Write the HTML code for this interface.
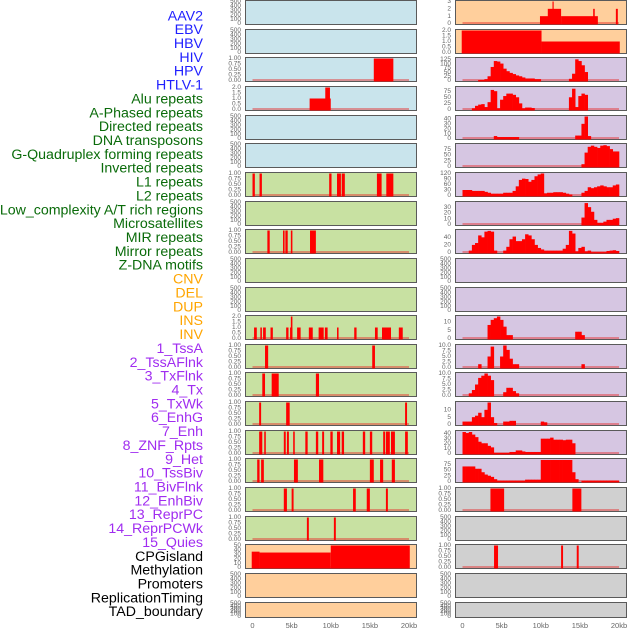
<!DOCTYPE html>
<html><head><meta charset="utf-8"><style>
body{margin:0;background:#fff;}
svg{display:block;font-family:"Liberation Sans",sans-serif;}
</style></head><body>
<svg id="chart" width="630" height="630" viewBox="0 0 630 630"></svg>
<script>
// ---- data ----
const trackLabels = ["AAV2","EBV","HBV","HIV","HPV","HTLV-1","Alu repeats","A-Phased repeats","Directed repeats","DNA transposons","G-Quadruplex forming repeats","Inverted repeats","L1 repeats","L2 repeats","Low_complexity A/T rich regions","Microsatellites","MIR repeats","Mirror repeats","Z-DNA motifs","CNV","DEL","DUP","INS","INV","1_TssA","2_TssAFlnk","3_TxFlnk","4_Tx","5_TxWk","6_EnhG","7_Enh","8_ZNF_Rpts","9_Het","10_TssBiv","11_BivFlnk","12_EnhBiv","13_ReprPC","14_ReprPCWk","15_Quies","CPGisland","Methylation","Promoters","ReplicationTiming","TAD_boundary"];
const labelGroups = ["v","v","v","v","v","v","r","r","r","r","r","r","r","r","r","r","r","r","r","s","s","s","s","s","c","c","c","c","c","c","c","c","c","c","c","c","c","c","c","o","o","o","o","o"];
const xTickLabels = ["0","5kb","10kb","15kb","20kb"];
const xTickValues = [0,5,10,15,20];
const ticksEmpty = ["0","100","200","300","400","500"];
const ticksUnit = ["0.00","0.25","0.50","0.75","1.00"];
const ticksTwo = ["0.0","0.5","1.0","1.5","2.0"];
const ticksTen = ["0.0","2.5","5.0","7.5","10.0"];
const leftBg = ["b","b","b","b","b","b","g","g","g","g","g","g","g","g","g","g","g","g","g","p","p","p"];
const rightBg = ["p","p","l","l","l","l","l","l","l","l","l","l","l","l","l","l","l","y","y","y","y","y"];
const leftSegs = [
 null,null,
 [[15.5,18,1]],
 [[7.3,10,1],[9.3,9.9,2]],
 null,null,
 [[0,0.3,1],[0.9,1.2,1],[9.8,10.1,1],[10.8,11.3,1],[11.4,11.8,1],[15.9,16.5,1],[17.1,18.0,1]],
 null,
 [[1.9,2.2,1],[3.9,4.1,1],[4.2,4.5,1],[4.9,5.1,1],[7.35,8.1,1]],
 null,null,
 [[0.2,0.55,1],[1.0,1.2,1],[1.35,1.7,1],[2.3,2.6,1],[4.3,4.6,1],[4.8,5.1,1],[4.9,5.1,2],[5.7,6.15,1],[7.2,7.7,1],[8.45,9.1,1],[9.25,9.6,1],[10.8,11.0,1],[13.0,13.3,1],[15.65,16.0,1],[16.55,17.7,1],[18.7,19.2,1]],
 [[1.6,2.0,1],[15.3,15.65,1]],
 [[1.25,1.6,1],[2.45,3.35,1],[8.1,8.5,1]],
 [[0.85,1.1,1],[4.3,4.75,1],[19.5,19.75,1]],
 [[0.85,1.25,1],[1.5,1.7,1],[4.0,4.25,1],[4.4,4.65,1],[5.2,5.4,1],[6.75,7.05,1],[8.1,8.4,1],[8.9,9.15,1],[9.95,10.25,1],[10.8,11.2,1],[11.4,11.7,1],[14.1,14.4,1],[15.0,15.3,1],[16.7,16.95,1],[17.05,17.55,1],[17.7,18.2,1],[19.5,19.85,1]],
 [[0.6,0.9,1],[1.1,1.45,1],[5.3,5.8,1],[8.5,9.05,1],[15.0,15.5,1],[16.3,16.7,1],[17.8,18.2,1]],
 [[4.0,4.4,1],[5.0,5.25,1],[12.85,13.2,1],[14.6,15.0,1],[17.05,17.3,1]],
 [[6.95,7.2,1],[10.4,10.65,1]],
 [[-0.1,0.9,36],[0.9,10,34],[10,20.1,50]],
 null,null
];
const leftYmax = [500,500,1,2,500,500,1,500,1,500,500,2,1,1,1,1,1,1,1,50,500,500];
const leftTicks = [ticksEmpty,ticksEmpty,ticksUnit,ticksTwo,ticksEmpty,ticksEmpty,ticksUnit,ticksEmpty,ticksUnit,ticksEmpty,ticksEmpty,ticksTwo,ticksUnit,ticksUnit,ticksUnit,ticksUnit,ticksUnit,ticksUnit,ticksUnit,["0","10","20","30","40","50"],ticksEmpty,ticksEmpty];
const rightSegs = {
 0:[[9.9,12.6,1],[10.9,12.6,2],[11.5,11.65,3],[12.6,17.3,1],[16.7,16.9,2],[19.6,19.85,2]],
 1:[[-0.1,10.1,2],[10.1,20.1,1]],
 17:[[3.57,5.32,1],[14.04,15.19,1]],
 19:[[4.03,4.54,1],[12.6,12.85,1],[14.6,14.85,1]]
};
const rightBins = {
 2:[{s:5,v:[3,3,8,25,80,115,112,100,70,55,45,38,30,25,18,12,12,12,8,8]},{s:34,v:[10,40,125,115,90,50]}],
 3:[{s:3,v:[5,15,20,22,10,30,80,75,5,40,55,65,65,60,50,25,5,8,8,6]},{s:34,v:[50,85,10,55,65,60]}],
 4:[{s:10,v:[5,3,3,3,3,3,3,3]},{s:36,v:[6,6,30,45,5]}],
 5:[{s:38,v:[10,60,85,90,85,80,90,92,88,75,65,65]}],
 6:[{s:0,v:[30,30,30,25,25,25,25,20,15,10,10,10,10,15,15,15,25,50,85,92,90,75,85,105,115,120,12,15,15,18,18,18,15,10,5]},{s:38,v:[15,25,45,40,45,50,55,50,45,45,55,60]}],
 7:[{s:38,v:[12,37,30,22,8,3,3,5,8,8,10,11]}],
 8:[{s:2,v:[5,20,25,45,40,55,57,55,5]},{s:13,v:[5,15,35,42,30,30,35,48,45,35,20,12,8,5,5,5,5,5,5,10,20,57,50,3,12,15,3,5,1,1,1,1,1,4,5,6,4]}],
 11:[{s:8,v:[8,11,12,13,11,7,2,2]},{s:36,v:[4,4,2]}],
 12:[{s:5,v:[1.5]},{s:8,v:[5,9.5]},{s:12,v:[5,10,8,4,1.5,1.5]},{s:38,v:[1.5]}],
 13:[{s:2,v:[1,2.5,5,8,9,10,9,7]},{s:13,v:[1.5,3.5,3.5,2,1]}],
 14:[{s:0,v:[2,2,2,5,6,8,5,10,15,5,1]},{s:13,v:[2,2,2.5,2.5]},{s:25,v:[2,1.5]}],
 15:[{s:0,v:[42,40,42,37,32,23,20,20,15,12,1,1,1,1,1,3,3,6,6,4,3,3,3,3,3,29,29,29,31,27,27,27,26,27,27,20]}],
 16:[{s:0,v:[65,65,65,65,55,55,40,30,25,20,10,3,3,3,3,3,3,3,3,3,8,8,8,8,8,93,93,93,93,93,93,93,93,93,93,40,10]},{s:38,v:[3,3,3,3,3,3,3,3,3,3,3,3]}]
};
const rightYmax = [3,2,130,90,45,95,120,38,58,500,500,13,10,10,15,43,95,1,500,1,500,500];
const rightTicks = [["0","1","2","3"],ticksTwo,["0","25","50","75","100","125"],["0","25","50","75"],["0","10","20","30","40"],["0","25","50","75"],["0","30","60","90","120"],["0","10","20","30"],["0","20","40"],ticksEmpty,ticksEmpty,["0","5","10"],ticksTen,ticksTen,["0","5","10"],["0","10","20","30","40"],["0","25","50","75"],ticksUnit,ticksEmpty,ticksUnit,ticksEmpty,ticksEmpty];

// ---- drawing ----
const NS="http://www.w3.org/2000/svg";
const svg=document.getElementById('chart');
const bgColors={b:"#c9e4ec",g:"#c8e1a2",p:"#ffcf9c",l:"#d6c6e2",y:"#d0d0d0"};
const labelColors={v:"#1f1fff",r:"#0a6b0a",s:"#ffa500",c:"#a02cf0",o:"#000000"};
function mk(tag,attrs,parent){const e=document.createElementNS(NS,tag);for(const k in attrs)e.setAttribute(k,attrs[k]);(parent||svg).appendChild(e);return e;}
function xScale(colX,kb){return colX+7.5+kb/20*156.5;}
function rowTop(i){return Math.round(i*28.65);}
function rowH(i){return i===21?16:25;}
function yScale(i,v,ymax){const t=rowTop(i),h=rowH(i);return t+h-1.5-(v/ymax)*(h-3);}

trackLabels.forEach((lab,i)=>{
  const t=mk('text',{x:203,y:16.5+i*13.86,'text-anchor':'end','dominant-baseline':'middle','font-size':'14.2',fill:labelColors[labelGroups[i]]});
  
  
  t.textContent=lab;
});

function drawPanel(colX,colName,i,bg,ticks,ymax,segs,bins){
  const t=rowTop(i),h=rowH(i);
  const g=mk('g',{});
  
  
  mk('rect',{x:colX+0.5,y:t+0.5,width:171,height:h-1,fill:bgColors[bg],stroke:'#5a5a5a','stroke-width':1},g);
  ticks.forEach((tk,k)=>{
    const v=ymax*k/(ticks.length-1);
    const yy=(ticks===ticksEmpty)?yScale(i,v,ymax):yScale(i,parseFloat(tk),ymax);
    const tx=mk('text',{x:colX-4,y:yy,'text-anchor':'end','dominant-baseline':'middle','font-size':'6.5',fill:'#666'},g);
    
    
    tx.textContent=tk;
  });
  const hasData=!!(segs||bins);
  if(hasData){
    const bl=mk('rect',{x:xScale(colX,0),y:t+h-3,width:xScale(colX,20)-xScale(colX,0),height:2,fill:'rgba(230,40,40,0.45)'},g);
    
    
  }
  const y0=yScale(i,0,ymax);
  if(segs) segs.forEach(s=>{
    const x1=xScale(colX,s[0]),x2=xScale(colX,s[1]),y1=yScale(i,s[2],ymax);
    const r=mk('rect',{x:x1,y:y1,width:Math.max(1,x2-x1),height:y0-y1+1,fill:'#ff0000'},g);
    
    
  });
  if(bins) bins.forEach(run=>{
    run.v.forEach((val,k)=>{
      if(val<=0)return;
      const b=run.s+k;
      const x1=xScale(colX,b*0.4),x2=xScale(colX,(b+1)*0.4),y1=yScale(i,val,ymax);
      const r=mk('rect',{x:x1,y:y1,width:x2-x1+0.3,height:y0-y1+1,fill:'#ff0000'},g);
      
      
    });
  });
}
for(let i=0;i<22;i++){
  drawPanel(245,'left',i,leftBg[i],leftTicks[i],leftYmax[i],leftSegs[i],null);
  drawPanel(455,'right',i,rightBg[i],rightTicks[i],rightYmax[i],rightSegs[i]||null,rightBins[i]||null);
}
[245,455].forEach((cx,ci)=>{
  xTickValues.forEach((v,k)=>{
    const tx=mk('text',{x:xScale(cx,v),y:628,'text-anchor':'middle','font-size':'7.5',fill:'#666'});
    
    
    tx.textContent=xTickLabels[k];
  });
});
</script>
</body></html>
